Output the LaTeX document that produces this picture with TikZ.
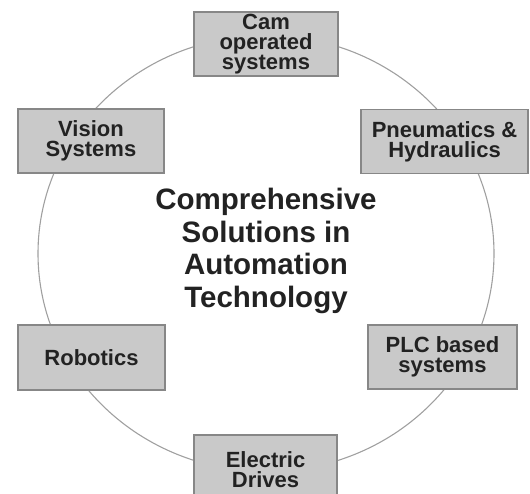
\documentclass[tikz,border=0pt]{standalone}
\usepackage{fontspec}
\setmainfont{Liberation Sans}
\usepackage{tikz}
\usetikzlibrary{positioning}
\definecolor{boxfill}{RGB}{201,201,201}
\definecolor{boxline}{RGB}{135,135,135}
\definecolor{ringline}{RGB}{160,160,160}
\definecolor{txt}{RGB}{34,34,34}
\tikzset{
  area/.style={rectangle, draw=boxline, fill=boxfill, line width=1.3pt, inner sep=0pt,
    minimum width=146pt, minimum height=64pt, align=center, text=txt,
    font=\fontsize{22}{20}\selectfont\bfseries},
  ring/.style={draw=ringline, line width=1.1pt},
  title/.style={align=center, text=txt, font=\fontsize{29.5}{32.5}\selectfont\bfseries}
}
\begin{document}
\begin{tikzpicture}[x=1pt, y=-1pt]
    \useasboundingbox (0,0) rectangle (530,493);

    % Ring behind the boxes
    \coordinate (c) at (266,253.5);
    \draw[ring] (c) ellipse [x radius=228, y radius=218];

    % Centre title
    \node[title] (core) at (266,251) {Comprehensive\\Solutions in\\Automation\\Technology};

    % Boxes round the ring
    \node[area, minimum width=144pt] (cam) at (266,44) {Cam\\operated\\systems};
    \node[area] (vision) at (91,141) {Vision\\Systems};
    \node[area, minimum width=167pt] (pneu) at (444.5,141.5) {Pneumatics \&\\Hydraulics};
    \node[area, minimum width=147pt, minimum height=65pt] (robot) at (91.5,357.5) {Robotics};
    \node[area, minimum width=149pt] (plc) at (442.5,357) {PLC based\\systems};
    \node[area, minimum width=143pt, minimum height=70pt] (drive) at (265.5,470) {Electric\\Drives};
\end{tikzpicture}
\end{document}
